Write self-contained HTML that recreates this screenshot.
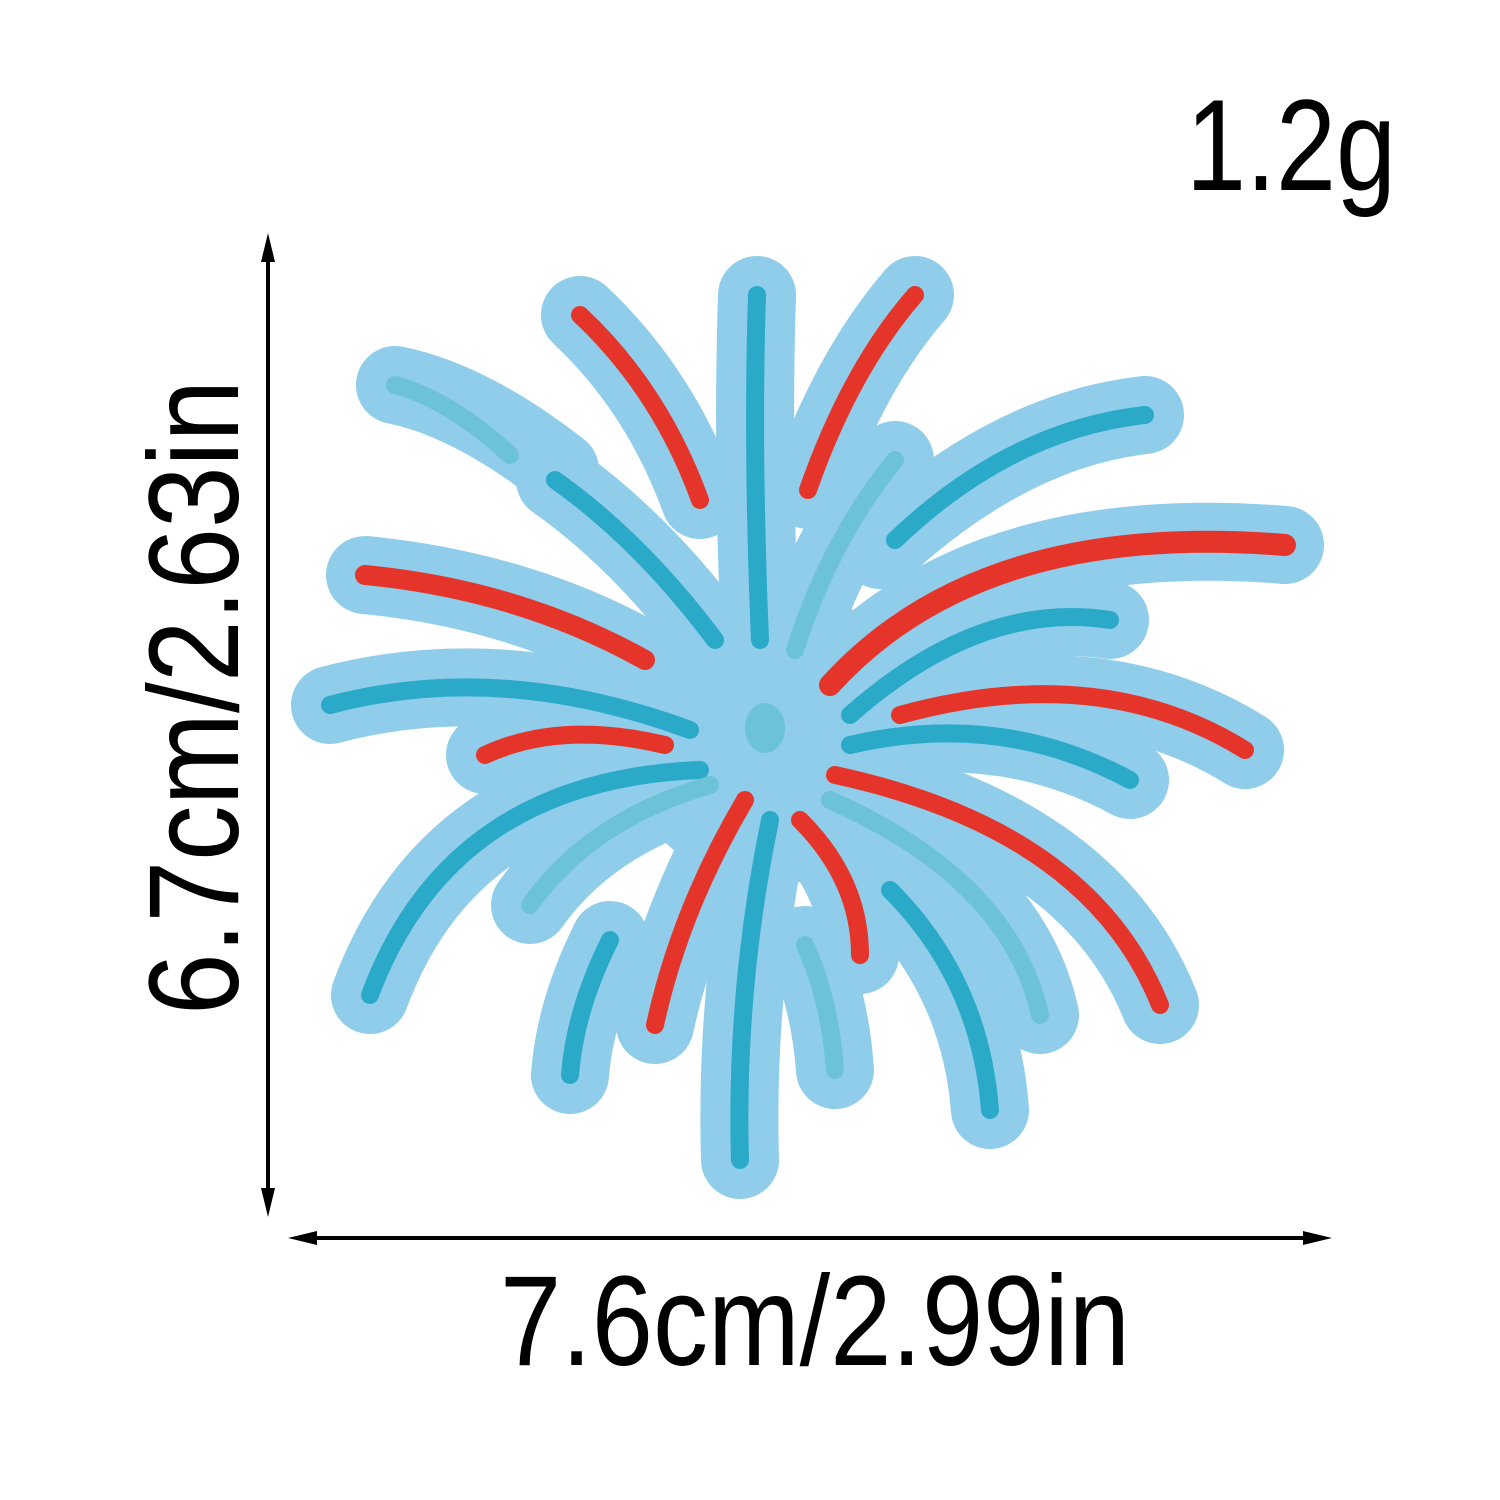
<!DOCTYPE html>
<html><head><meta charset="utf-8">
<style>
html,body{margin:0;padding:0;background:#fff;}
svg{display:block;}
text{font-family:"Liberation Sans",sans-serif;fill:#000;}
</style></head>
<body>
<svg width="1500" height="1500" viewBox="0 0 1500 1500">
<rect width="1500" height="1500" fill="#fff"/>
<text x="1186" y="190" font-size="130" textLength="210" lengthAdjust="spacingAndGlyphs">1.2g</text>

<g stroke="#000" stroke-width="4" fill="#000">
<line x1="268" y1="245" x2="268" y2="1205"/>
<path d="M268 233 L261 262 L275 262 Z" stroke="none"/>
<path d="M268 1217 L261 1188 L275 1188 Z" stroke="none"/>
</g>
<text transform="translate(238,1015) rotate(-90)" font-size="128" textLength="635" lengthAdjust="spacingAndGlyphs">6.7cm/2.63in</text>

<g stroke="#000" stroke-width="4" fill="#000">
<line x1="300" y1="1238" x2="1320" y2="1238"/>
<path d="M288 1238 L317 1231 L317 1245 Z" stroke="none"/>
<path d="M1332 1238 L1303 1231 L1303 1245 Z" stroke="none"/>
</g>
<text x="500" y="1365" font-size="128" textLength="630" lengthAdjust="spacingAndGlyphs">7.6cm/2.99in</text>

<g id="patch" fill="none" stroke-linecap="round">
<g stroke="#8fcdea" stroke-width="78">
<circle cx="770" cy="735" r="150" fill="#8fcdea" stroke="none"/>
<path d="M760 640 Q752 450 757 295"/>
<path d="M700 500 Q660 390 580 315"/>
<path d="M808 490 Q850 370 915 295"/>
<path d="M560 470 Q470 400 395 385"/>
<path d="M715 640 Q640 540 555 480"/>
<path d="M795 650 Q830 540 895 460"/>
<path d="M880 550 Q1010 430 1145 415"/>
<path d="M830 685 Q980 520 1285 545"/>
<path d="M645 660 Q520 590 365 575"/>
<path d="M690 730 Q500 660 330 705"/>
<path d="M665 745 Q560 720 485 755"/>
<path d="M850 715 Q980 600 1110 620"/>
<path d="M900 715 Q1100 660 1245 750"/>
<path d="M850 745 Q1000 710 1130 780"/>
<path d="M700 770 Q450 780 370 995"/>
<path d="M710 785 Q590 820 530 905"/>
<path d="M745 800 Q680 910 655 1025"/>
<path d="M770 820 Q735 990 740 1160"/>
<path d="M800 820 Q860 880 860 955"/>
<path d="M805 945 Q830 1000 835 1070"/>
<path d="M610 940 Q575 1010 570 1075"/>
<path d="M890 890 Q980 980 990 1110"/>
<path d="M830 800 Q1010 880 1040 1015"/>
<path d="M835 775 Q1090 830 1160 1005"/>
</g>
<g stroke-width="18">
<path d="M760 640 Q752 450 757 295" stroke="#2aa9c9"/>
<path d="M700 500 Q660 390 580 315" stroke="#e5352b"/>
<path d="M808 490 Q850 370 915 295" stroke="#e5352b"/>
<path d="M510 455 Q450 400 395 385" stroke="#6cc3d8"/>
<path d="M715 640 Q640 540 555 480" stroke="#2aa9c9"/>
<path d="M795 650 Q830 540 895 460" stroke="#6cc3d8"/>
<path d="M895 540 Q1010 430 1145 415" stroke="#2aa9c9"/>
<path d="M830 685 Q980 520 1285 545" stroke="#e5352b" stroke-width="22"/>
<path d="M645 660 Q520 590 365 575" stroke="#e5352b" stroke-width="20"/>
<path d="M690 730 Q500 660 330 705" stroke="#2aa9c9"/>
<path d="M665 745 Q560 720 485 755" stroke="#e5352b"/>
<path d="M850 715 Q980 600 1110 620" stroke="#2aa9c9"/>
<path d="M900 715 Q1100 660 1245 750" stroke="#e5352b"/>
<path d="M850 745 Q1000 710 1130 780" stroke="#2aa9c9"/>
<path d="M700 770 Q450 780 370 995" stroke="#2aa9c9"/>
<path d="M710 785 Q590 820 530 905" stroke="#6cc3d8"/>
<path d="M745 800 Q680 910 655 1025" stroke="#e5352b"/>
<path d="M770 820 Q735 990 740 1160" stroke="#2aa9c9"/>
<path d="M800 820 Q860 880 860 955" stroke="#e5352b"/>
<path d="M805 945 Q830 1000 835 1070" stroke="#6cc3d8"/>
<path d="M610 940 Q575 1010 570 1075" stroke="#2aa9c9"/>
<path d="M890 890 Q980 980 990 1110" stroke="#2aa9c9"/>
<path d="M830 800 Q1010 880 1040 1015" stroke="#6cc3d8"/>
<path d="M835 775 Q1090 830 1160 1005" stroke="#e5352b"/>
</g>
<ellipse cx="765" cy="728" rx="20" ry="25" fill="#6cc3d8"/>
</g>
</svg>
</body></html>
